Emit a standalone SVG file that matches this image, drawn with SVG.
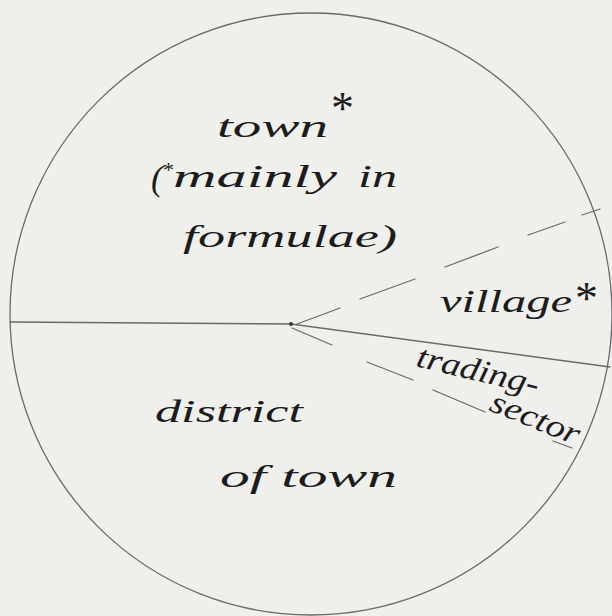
<svg xmlns="http://www.w3.org/2000/svg" width="612" height="616" viewBox="0 0 612 616">
  <style>
    .ln { stroke: #6a6a6a; stroke-width: 1.3; fill: none; stroke-linecap: round; }
    .hw { font-family: "Liberation Serif", "DejaVu Serif", serif; font-style: italic; font-size: 32px; fill: #1c1c1c; }
    .ast { font-family: "Liberation Serif", "DejaVu Serif", serif; font-size: 46px; fill: #1c1c1c; }
  </style>
  <rect x="0" y="0" width="612" height="616" fill="#efefec"/>
  <g id="lines">
    <circle class="ln" cx="311" cy="314" r="301"/>
    <path class="ln" d="M10 322 L291 324"/>
    <path class="ln" d="M291 324 L610 367"/>
    <path class="ln" d="M297 324 L340 308 M360 299 L415 279 M445 267 L498 247 M528 235 L565 222 M582 215 L600 209"/>
    <path class="ln" d="M292 328 L332 345 M367 362 L413 380 M433 390 L485 412 M553 441 L572 448"/>
    <circle cx="291" cy="324" r="2" fill="#333"/>
  </g>
  <g id="town">
    <text class="hw" x="217" y="137" textLength="111" lengthAdjust="spacingAndGlyphs">town</text>
    <text class="ast" x="331" y="124">*</text>
    <text class="hw" x="151" y="187"><tspan font-size="36" dy="3">(</tspan><tspan font-style="normal" font-size="22" dy="-13">*</tspan><tspan x="173" y="187" textLength="164" lengthAdjust="spacingAndGlyphs">mainly</tspan><tspan x="358" y="187" textLength="39" lengthAdjust="spacingAndGlyphs">in</tspan></text>
    <text class="hw" x="183" y="247" textLength="214" lengthAdjust="spacingAndGlyphs">formulae)</text>
  </g>
  <g id="village">
    <text class="hw" x="440" y="312" textLength="132" lengthAdjust="spacingAndGlyphs">village</text>
    <text class="ast" x="575" y="314">*</text>
  </g>
  <g id="trading-sector">
    <text class="hw" x="415" y="366" transform="rotate(13.5 415 366)" textLength="125" lengthAdjust="spacingAndGlyphs">trading-</text>
    <text class="hw" x="488" y="410" transform="rotate(22 488 410)" textLength="94" lengthAdjust="spacingAndGlyphs">sector</text>
  </g>
  <g id="district">
    <text class="hw" x="155" y="422" textLength="148" lengthAdjust="spacingAndGlyphs">district</text>
    <text class="hw" x="220" y="487" textLength="177" lengthAdjust="spacingAndGlyphs">of town</text>
  </g>
</svg>
